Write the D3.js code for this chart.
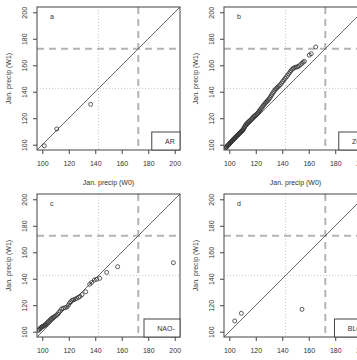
<!DOCTYPE html>
<html>
<head>
<meta charset="utf-8">
<script src="https://cdn.jsdelivr.net/npm/d3@7"></script>
<style>
  body { margin: 0; background: #fff; }
  svg { display: block; font-family: "Liberation Sans", Arial, sans-serif; }
</style>
</head>
<body>
<div id="chart"></div>
<script>
// panel letters and regime names shown in the legend boxes
const panelIds = ['a', 'b', 'c', 'd'];
const regimeNames = ['AR', 'ZO', 'NAO-', 'BLO'];
const tickValues = [100, 120, 140, 160, 180, 200];
const axisDomain = [96, 204];
const dottedLevel = 142.5;
const dashedLevel = 172.5;
const xTitle = 'Jan. precip (W0)';
const yTitle = 'Jan. precip (W1)';

// quantiles W0 / W1 for each regime
const arW0 = [101.5, 110.9, 136.5];
const arW1 = [99.2, 111.9, 130.5];

const zoW0 = [97.0, 97.6, 98.1, 98.5, 98.9, 99.3, 99.8, 100.2, 100.6, 101.0, 101.4, 101.8, 102.2, 102.6, 103.0,
  103.4, 103.9, 104.3, 104.7, 105.2, 105.6, 106.1, 106.5, 107.0, 107.4, 107.9, 108.3, 108.8, 109.2, 109.7,
  110.1, 110.6, 111.0, 111.4, 111.8, 112.3, 112.8, 113.3, 113.9, 114.5, 115.1, 115.7, 116.4, 117.0, 117.6,
  118.3, 118.9, 119.6, 120.2, 120.9, 121.5, 122.1, 122.7, 123.3, 123.9, 124.6, 125.2, 125.9, 126.6, 127.3,
  128.0, 128.7, 129.4, 130.1, 130.8, 131.5, 132.2, 132.9, 133.6, 134.4, 135.2, 136.0, 136.8, 137.7, 138.6,
  139.5, 140.4, 141.3, 142.2, 143.1, 144.0, 144.9, 145.8, 146.6, 147.5, 148.4, 149.4, 150.5, 151.6, 152.7,
  153.8, 154.9, 155.8, 156.7, 160.4, 161.9, 165.3];
const zoW1 = [97.2, 97.9, 98.5, 99.0, 99.4, 99.9, 100.4, 100.8, 101.3, 101.7, 102.1, 102.6, 103.0, 103.4, 103.9,
  104.3, 104.7, 105.2, 105.6, 106.1, 106.5, 107.0, 107.4, 107.9, 108.3, 108.8, 109.2, 109.7, 110.1, 110.6,
  111.0, 111.6, 112.3, 113.1, 113.9, 114.7, 115.4, 116.0, 116.6, 117.2, 117.7, 118.3, 118.9, 119.6, 120.3,
  121.0, 121.6, 122.1, 122.6, 123.2, 123.9, 124.7, 125.5, 126.3, 127.2, 128.0, 128.9, 129.8, 130.7, 131.5,
  132.3, 133.0, 133.8, 134.7, 135.7, 136.8, 137.9, 139.0, 140.1, 141.2, 142.1, 142.9, 143.7, 144.6, 145.5,
  146.6, 147.8, 149.0, 150.1, 151.2, 152.4, 153.6, 154.8, 156.0, 157.0, 157.7, 158.3, 158.6, 158.9, 159.5,
  160.5, 161.5, 162.3, 163.0, 167.7, 168.7, 173.8];

const naoW0 = [97.0, 97.6, 98.2, 98.8, 99.4, 100.0, 100.6, 101.2, 101.8, 102.4, 103.0, 103.6, 104.3, 105.0, 105.8,
  106.6, 107.4, 108.2, 109.0, 109.8, 110.7, 111.6, 112.5, 113.4, 114.5, 115.8, 117.3, 118.6, 119.7, 120.6,
  121.5, 122.4, 123.6, 124.8, 126.0, 127.3, 128.5, 130.0, 132.8, 135.8, 137.3, 139.3, 141.0, 143.4, 148.6,
  156.9, 199.0];
const naoW1 = [101.0, 101.6, 102.3, 102.9, 103.4, 103.8, 104.1, 104.4, 104.8, 105.3, 105.9, 106.6, 107.3, 108.0, 108.8,
  109.6, 110.2, 110.8, 111.2, 111.8, 112.5, 113.2, 114.4, 115.6, 117.2, 117.8, 118.2, 118.6, 120.0, 121.6,
  122.6, 123.6, 124.1, 124.6, 125.2, 126.0, 126.6, 128.0, 130.2, 135.8, 137.2, 139.0, 139.6, 140.3, 144.8,
  149.1, 152.1];

const blW0 = [104.1, 109.1, 154.9];
const blW1 = [108.1, 113.9, 116.9];

const seriesW0 = [arW0, zoW0, naoW0, blW0];
const seriesW1 = [arW1, zoW1, naoW1, blW1];

const width = 357, height = 360;
const size = 143;
const origins = [[37, 7], [224, 7], [37, 194], [224, 194]];

const svg = d3.select('#chart').append('svg')
  .attr('width', width)
  .attr('height', height);

const x = d3.scaleLinear().domain(axisDomain).range([0, size]);
const y = d3.scaleLinear().domain(axisDomain).range([size, 0]);

panelIds.forEach((id, i) => {
  const g = svg.append('g').attr('transform', `translate(${origins[i][0]},${origins[i][1]})`);

  g.append('clipPath').attr('id', 'clip-' + id)
    .append('rect').attr('width', size).attr('height', size);

  const inner = g.append('g').attr('clip-path', `url(#clip-${id})`);

  // light dotted reference lines
  inner.append('line')
    .attr('x1', x(dottedLevel)).attr('x2', x(dottedLevel))
    .attr('y1', 0).attr('y2', size)
    .attr('stroke', '#c8c8c8').attr('stroke-dasharray', '1,2');
  inner.append('line')
    .attr('x1', 0).attr('x2', size)
    .attr('y1', y(dottedLevel)).attr('y2', y(dottedLevel))
    .attr('stroke', '#c8c8c8').attr('stroke-dasharray', '1,2');

  // thick dashed threshold lines
  inner.append('line')
    .attr('x1', x(dashedLevel)).attr('x2', x(dashedLevel))
    .attr('y1', 0).attr('y2', size)
    .attr('stroke', '#b4b4b4').attr('stroke-width', 2).attr('stroke-dasharray', '7,5');
  inner.append('line')
    .attr('x1', 0).attr('x2', size)
    .attr('y1', y(dashedLevel)).attr('y2', y(dashedLevel))
    .attr('stroke', '#b4b4b4').attr('stroke-width', 2).attr('stroke-dasharray', '7,5');

  // 1:1 line
  inner.append('line')
    .attr('x1', x(axisDomain[0])).attr('y1', y(axisDomain[0]))
    .attr('x2', x(axisDomain[1])).attr('y2', y(axisDomain[1]))
    .attr('stroke', '#555').attr('stroke-width', 0.9);

  const pts = seriesW0[i].map((v, k) => [v, seriesW1[i][k]]);
  inner.selectAll('circle').data(pts).join('circle')
    .attr('cx', d => x(d[0]))
    .attr('cy', d => y(d[1]))
    .attr('r', 2)
    .attr('fill', 'none')
    .attr('stroke', '#333')
    .attr('stroke-width', 0.8);

  // axes
  const xAxis = g.append('g').attr('transform', `translate(0,${size})`)
    .call(d3.axisBottom(x).tickValues(tickValues).tickSize(4));
  xAxis.select('.domain').remove();
  xAxis.selectAll('line').attr('stroke', '#444');
  xAxis.selectAll('text').attr('y', 16).attr('dy', null)
    .attr('font-size', 7).attr('fill', '#333').attr('font-family', null);

  const yAxis = g.append('g')
    .call(d3.axisLeft(y).tickValues(tickValues).tickSize(4));
  yAxis.select('.domain').remove();
  yAxis.selectAll('line').attr('stroke', '#444');
  yAxis.selectAll('text')
    .attr('x', null).attr('dy', null)
    .attr('transform', 'translate(-9.8,0) rotate(-90)')
    .attr('text-anchor', 'middle')
    .attr('font-size', 7).attr('fill', '#333').attr('font-family', null);

  g.append('rect')
    .attr('width', size).attr('height', size)
    .attr('fill', 'none').attr('stroke', '#444').attr('stroke-width', 1);

  // titles
  g.append('text')
    .attr('x', size / 2).attr('y', size + 34.8)
    .attr('text-anchor', 'middle')
    .attr('font-size', 7).attr('fill', '#333')
    .text(xTitle);
  g.append('text')
    .attr('transform', `translate(-26.5,${size / 2}) rotate(-90)`)
    .attr('text-anchor', 'middle')
    .attr('font-size', 7).attr('fill', '#333')
    .text(yTitle);

  g.append('text')
    .attr('x', 13).attr('y', 12)
    .attr('font-size', 7).attr('fill', '#333')
    .text(id);

  // legend box, bottom right
  const leg = g.append('g');
  const label = leg.append('text')
    .attr('font-size', 7).attr('fill', '#333')
    .text(regimeNames[i]);
  const tw = label.node().getComputedTextLength();
  const bw = tw + 18.5, bh = 18;
  leg.insert('rect', 'text')
    .attr('x', size - bw).attr('y', size - bh)
    .attr('width', bw).attr('height', bh)
    .attr('fill', '#fff').attr('stroke', '#444').attr('stroke-width', 1);
  label.attr('x', size - bw + 13.3).attr('y', size - bh / 2 + 2.5);
});
</script>
</body>
</html>
